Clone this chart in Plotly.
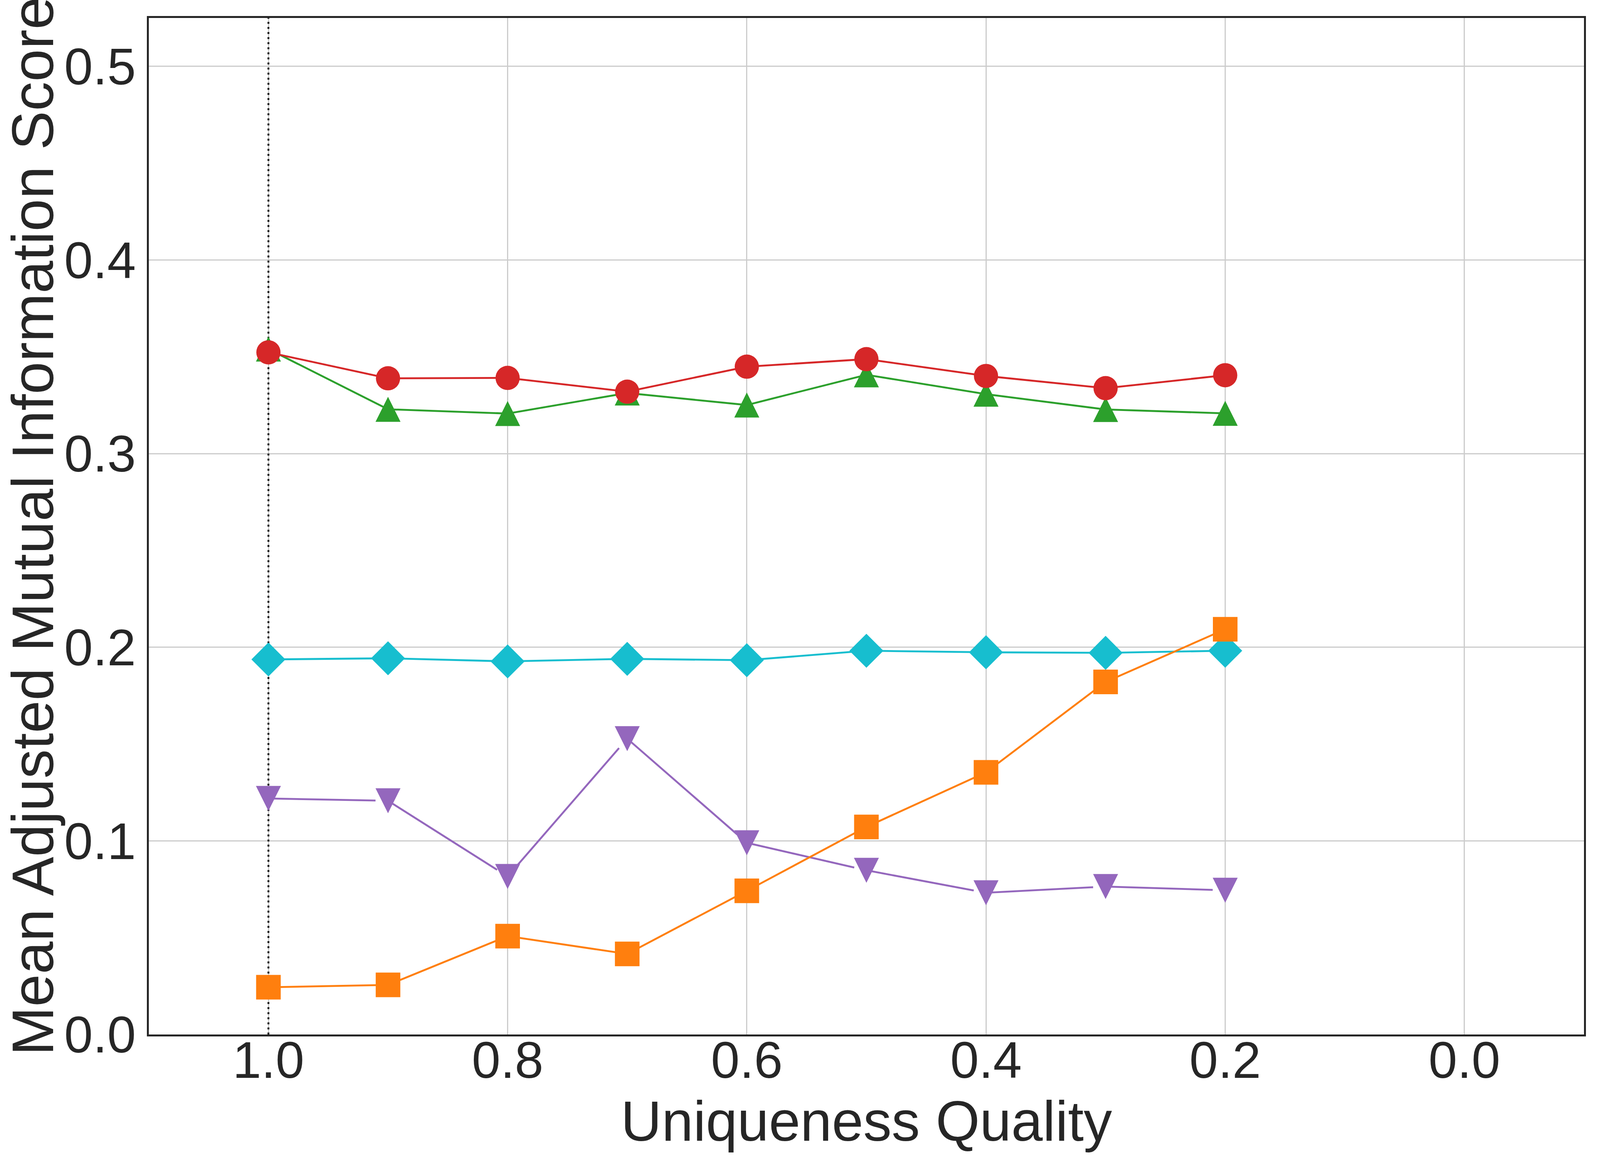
import plotly.graph_objects as go

# ---- data ----
uniqueness = [1.0, 0.9, 0.8, 0.7, 0.6, 0.5, 0.4, 0.3, 0.2]

red_circle = [0.3523, 0.3389, 0.3391, 0.3320, 0.3449, 0.3488, 0.3401, 0.3338, 0.3405]
green_triangle = [0.3540, 0.3229, 0.3207, 0.3313, 0.3251, 0.3407, 0.3307, 0.3228, 0.3208]
cyan_diamond = [0.1937, 0.1943, 0.1927, 0.1940, 0.1933, 0.1982, 0.1974, 0.1971, 0.1982]
purple_triangle_down = [0.1219, 0.1207, 0.0816, 0.1528, 0.0990, 0.0848, 0.0732, 0.0764, 0.0745]
orange_square = [0.0244, 0.0256, 0.0508, 0.0416, 0.0742, 0.1072, 0.1354, 0.1821, 0.2093]

reference_x = 1.0

x_range = [1.1, -0.1]
y_range = [0.0, 0.525]
x_ticks = [1.0, 0.8, 0.6, 0.4, 0.2, 0.0]
y_ticks = [0.0, 0.1, 0.2, 0.3, 0.4, 0.5]

x_title = "Uniqueness Quality"
y_title = "Mean Adjusted Mutual Information Score"

# ---- styling ----
W, H = 4096, 3000          # the browser viewport is 4096 px wide
SX = W / 4500.0            # horizontal scale relative to the 4500-wide reference
TEXT = "#262626"
FONT = "Liberation Sans, Arial, sans-serif"
LW = 4.8
TRI = 64

fig = go.Figure()

# dotted reference line (drawn first so markers sit on top of it)
fig.add_trace(go.Scatter(
    x=[reference_x, reference_x], y=y_range, mode="lines",
    line=dict(color="black", width=4.6, dash="5px,8px"),
    showlegend=False, hoverinfo="skip",
))

def add(y, color, marker):
    fig.add_trace(go.Scatter(
        x=uniqueness, y=y, mode="lines+markers",
        line=dict(color=color, width=LW),
        marker=dict(color=color, line=dict(width=0), **marker),
        showlegend=False, cliponaxis=False,
    ))

add(cyan_diamond, "#17becf", dict(symbol="diamond", size=67))
add(purple_triangle_down, "#9467bd", dict(symbol="arrow-down", size=TRI, angle=0, standoff=TRI / 2))
add(orange_square, "#ff7f0e", dict(symbol="square", size=63))
add(green_triangle, "#2ca02c", dict(symbol="arrow-down", size=TRI, angle=180, standoff=TRI / 2))
add(red_circle, "#d62728", dict(symbol="circle", size=62))

axis_common = dict(
    showline=True, mirror=True, linecolor=TEXT, linewidth=4.6,
    showgrid=True, gridcolor="#cccccc", gridwidth=3,
    zeroline=False, ticks="", automargin=False,
    tickfont=dict(family=FONT, size=132, color=TEXT),
    tickformat=".1f",
)

fig.update_xaxes(range=x_range, tickvals=x_ticks, ticklabelstandoff=-52,
                 title=dict(text=x_title, font=dict(family=FONT, size=145, color=TEXT), standoff=34),
                 **axis_common)
fig.update_yaxes(range=y_range, tickvals=y_ticks, ticklabelstandoff=2,
                 title=dict(text=y_title, font=dict(family=FONT, size=150, color=TEXT), standoff=55),
                 **axis_common)

fig.update_layout(
    width=W, height=H,
    margin=dict(l=round(419 * SX), r=W - round(4455 * SX), t=46, b=352, pad=0),
    paper_bgcolor="white", plot_bgcolor="white",
    font=dict(family=FONT, color=TEXT),
)

fig.write_html("out.html", config={"displayModeBar": False},
               post_script="document.body.style.margin='0';")
